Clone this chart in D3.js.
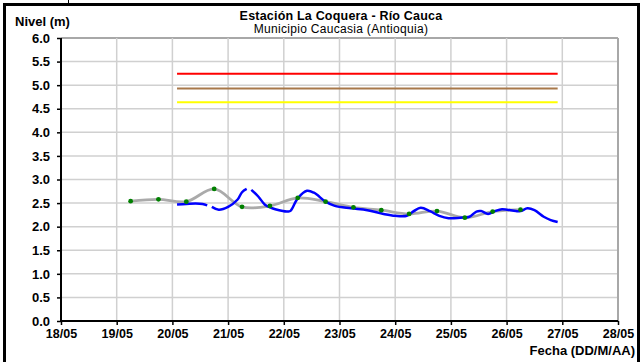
<!DOCTYPE html>
<html><head><meta charset="utf-8">
<script src="https://cdn.jsdelivr.net/npm/d3@7"></script>
<style>body{margin:0;background:#fff}svg{display:block;font-family:"Liberation Sans",Arial,sans-serif}</style>
</head><body><svg id="c" width="642" height="362"></svg>
<script>
const title = "Estación La Coquera - Río Cauca";
const subtitle = "Municipio Caucasia (Antioquia)";
const yLabel = "Nivel (m)";
const xLabel = "Fecha (DD/M/AA)";
const xTickLabels = ["18/05","19/05","20/05","21/05","22/05","23/05","24/05","25/05","26/05","27/05","28/05"];
const yTicks = [0,0.5,1,1.5,2,2.5,3,3.5,4,4.5,5,5.5,6];

// observed (blue) series: time stamps and levels (null = gap)
const obsTimes = ["20/05 02","20/05 06","20/05 10","20/05 13","20/05 15","20/05 16","20/05 17","20/05 20",
  "21/05 00","21/05 04","21/05 06","21/05 08","21/05 09","21/05 10","21/05 13","21/05 16","21/05 19","21/05 22",
  "22/05 02","22/05 03","22/05 06","22/05 10","22/05 13","22/05 18","22/05 22",
  "23/05 05","23/05 12","23/05 19","24/05 00","24/05 05","24/05 08","24/05 11","24/05 15","24/05 19","24/05 23",
  "25/05 04","25/05 08","25/05 11","25/05 13","25/05 16","25/05 19","25/05 22",
  "26/05 04","26/05 06","26/05 09","26/05 12","26/05 16","26/05 19","26/05 22"];
const obsValues = [2.47,2.48,2.49,2.48,2.45,null,2.42,2.36,
  2.42,2.57,2.73,2.80,null,2.78,2.64,2.46,2.39,2.35,
  2.32,2.34,2.60,2.76,2.72,2.53,2.44,
  2.39,2.35,2.27,2.23,2.23,2.33,2.40,2.33,2.23,2.18,
  2.19,2.21,2.32,2.33,2.27,2.33,2.37,
  2.33,2.33,2.39,2.35,2.21,2.14,2.10];

// reference (gray with green points) series
const refTimes = ["19/05 06","19/05 18","20/05 06","20/05 18","21/05 06","21/05 18","22/05 06","22/05 18",
  "23/05 06","23/05 18","24/05 06","24/05 18","25/05 06","25/05 18","26/05 06"];
const refValues = [2.54,2.58,2.53,2.80,2.42,2.44,2.61,2.53,2.41,2.35,2.27,2.33,2.19,2.32,2.36];

// threshold levels
const thresholdNames = ["roja","naranja","amarilla"];
const thresholdValues = [5.24,4.93,4.64];
const thresholdColors = ["#ff0000","#a8784a","#ffff00"];
const thresholdStart = "20/05 02", thresholdEnd = "26/05 22";

const parse = d3.timeParse("%d/%m %H");
const pDay = d3.timeParse("%d/%m");

const svg = d3.select("#c");
const L=61,R=618,T=38,B=321;
const x = d3.scaleTime().domain([pDay("18/05"), pDay("28/05")]).range([L,R]);
const y = d3.scaleLinear().domain([0,6]).range([B,T]);

// frame
svg.append("path").attr("d","M4.5,362V4.5H638.5V362").attr("fill","none").attr("stroke","#000").attr("stroke-width",3);
svg.append("line").attr("x1",68.5).attr("x2",68.5).attr("y1",0).attr("y2",3).attr("stroke","#000");

// gridlines
const dayTicks = xTickLabels.map(s=>pDay(s));
svg.append("g").selectAll("line").data(yTicks.slice(1)).join("line")
  .attr("x1",L).attr("x2",R).attr("y1",d=>y(d)).attr("y2",d=>y(d))
  .attr("stroke",d=>d===6?"#a8a8a8":"#d0d0d0").attr("stroke-width",d=>d===6?2:1.5);
svg.append("g").selectAll("line").data(dayTicks.slice(1)).join("line")
  .attr("x1",d=>x(d)).attr("x2",d=>x(d)).attr("y1",T).attr("y2",B)
  .attr("stroke",(d,i)=>i===dayTicks.length-2?"#a8a8a8":"#d0d0d0").attr("stroke-width",(d,i)=>i===dayTicks.length-2?2:1.5);

// axes
const yAxis = d3.axisLeft(y).tickValues(yTicks).tickFormat(d3.format(".1f")).tickSize(4);
const gy = svg.append("g").attr("transform",`translate(${L},0)`).call(yAxis);
gy.select(".domain").attr("stroke","#000").attr("stroke-width",2).attr("d",`M0,${T}V${B}`);
gy.selectAll(".tick line").attr("stroke","#000").attr("stroke-width",1.5);
gy.selectAll("text").attr("font-size",13).attr("font-weight","bold").attr("fill","#000").attr("x",-11);

const xAxis = d3.axisBottom(x).tickValues(dayTicks).tickFormat((d,i)=>xTickLabels[i]).tickSize(4);
const gx = svg.append("g").attr("transform",`translate(0,${B})`).call(xAxis);
gx.select(".domain").attr("stroke","#000").attr("stroke-width",2).attr("d",`M${L},0H${R}`);
gx.selectAll(".tick line").attr("stroke","#000").attr("stroke-width",1.5);
gx.selectAll("text").attr("font-size",12.5).attr("font-weight","bold").attr("fill","#000").attr("y",8);

// thresholds
svg.append("g").selectAll("line").data(thresholdValues).join("line")
  .attr("x1",x(parse(thresholdStart))).attr("x2",x(parse(thresholdEnd)))
  .attr("y1",d=>y(d)).attr("y2",d=>y(d))
  .attr("stroke",(d,i)=>thresholdColors[i]).attr("stroke-width",2);

// reference gray line
const refData = refTimes.map((t,i)=>({t:parse(t),v:refValues[i]}));
svg.append("path").datum(refData)
  .attr("d",d3.line().x(d=>x(d.t)).y(d=>y(d.v)).curve(d3.curveCatmullRom.alpha(0.5)))
  .attr("fill","none").attr("stroke","#aaaaaa").attr("stroke-width",2.8);

// observed blue line
const obsData = obsTimes.map((t,i)=>({t:parse(t),v:obsValues[i]}));
svg.append("path").datum(obsData)
  .attr("d",d3.line().defined(d=>d.v!=null).x(d=>x(d.t)).y(d=>y(d.v)).curve(d3.curveCatmullRom.alpha(0.5)))
  .attr("fill","none").attr("stroke","#0000ff").attr("stroke-width",2.5);

// green points
svg.append("g").selectAll("circle").data(refData).join("circle")
  .attr("cx",d=>x(d.t)).attr("cy",d=>y(d.v)).attr("r",2.4).attr("fill","#008000");

// texts
svg.append("text").attr("x",341).attr("y",19.5).attr("text-anchor","middle")
  .attr("font-size",12.5).attr("font-weight","bold").attr("letter-spacing",0.2).text(title);
svg.append("text").attr("x",341).attr("y",32.5).attr("text-anchor","middle")
  .attr("font-size",12).attr("letter-spacing",0.3).text(subtitle);
svg.append("text").attr("x",15).attr("y",26).attr("font-size",13).attr("font-weight","bold").text(yLabel);
svg.append("text").attr("x",635).attr("y",355).attr("text-anchor","end")
  .attr("font-size",13).attr("font-weight","bold").text(xLabel);
</script></body></html>
